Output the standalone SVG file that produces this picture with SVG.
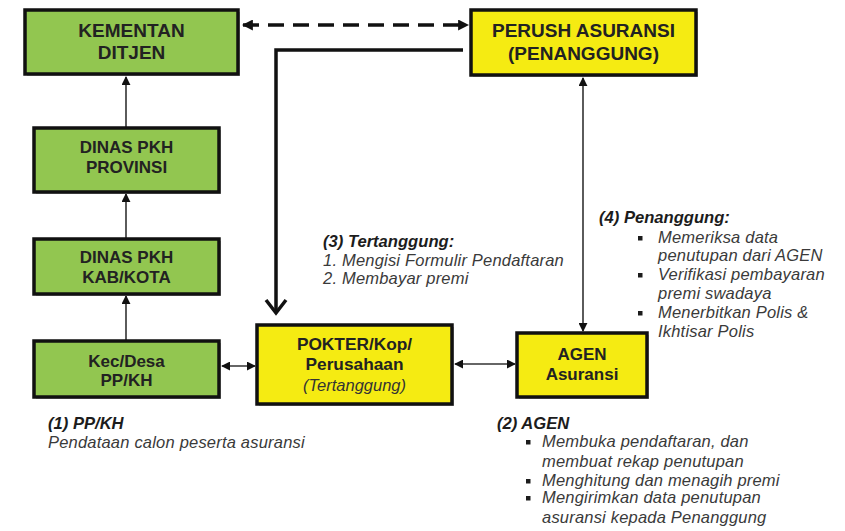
<svg xmlns="http://www.w3.org/2000/svg" width="845" height="531" viewBox="0 0 845 531">
<defs>
<style>
.box{stroke:#111;stroke-width:3.5}
.g{fill:#92c650}
.y{fill:#f5eb12}
.sh{fill:#bdbdbd}
.nt{font-family:"Liberation Sans",Arial,sans-serif;font-weight:bold;fill:#222;text-anchor:middle}
.ni{font-family:"Liberation Sans",Arial,sans-serif;font-style:italic;fill:#333;text-anchor:middle}
.hd{font-family:"Liberation Sans",Arial,sans-serif;font-weight:bold;font-style:italic;fill:#1c1c1c;font-size:16.6px}
.it{font-family:"Liberation Sans",Arial,sans-serif;font-style:italic;fill:#3a3a3a;font-size:16.5px;letter-spacing:0.2px}
.thin{stroke:#333;stroke-width:1.6;fill:none}
.bul{fill:#1c1c1c}
</style>
<marker id="ah" viewBox="0 0 10 10" refX="9" refY="5" markerWidth="9" markerHeight="9" markerUnits="userSpaceOnUse" orient="auto-start-reverse">
<path d="M0,0 L10,5 L0,10 z" fill="#111"/>
</marker>
<marker id="ahb" viewBox="0 0 10 10" refX="9" refY="5" markerWidth="11" markerHeight="11" markerUnits="userSpaceOnUse" orient="auto-start-reverse">
<path d="M0,0 L10,5 L0,10 z" fill="#111"/>
</marker>
</defs>
<rect width="845" height="531" fill="#fff"/>

<g id="connectors">
<line x1="243" y1="25" x2="468" y2="25" stroke="#111" stroke-width="3.5" stroke-dasharray="16,9" marker-start="url(#ahb)" marker-end="url(#ahb)"/>
<path d="M463,50 H276 V313" fill="none" stroke="#111" stroke-width="3.5"/>
<path d="M266,300 L276,313 L286,300" fill="none" stroke="#111" stroke-width="3.5" stroke-linejoin="miter"/>
<line class="thin" x1="126" y1="127" x2="126" y2="77" marker-end="url(#ah)"/>
<line class="thin" x1="126" y1="238" x2="126" y2="194" marker-end="url(#ah)"/>
<line class="thin" x1="126" y1="340" x2="126" y2="296" marker-end="url(#ah)"/>
<line class="thin" x1="222" y1="366" x2="255" y2="366" marker-start="url(#ah)" marker-end="url(#ah)"/>
<line class="thin" x1="455" y1="364" x2="515" y2="364" marker-start="url(#ah)" marker-end="url(#ah)"/>
<line class="thin" x1="583" y1="78" x2="583" y2="331" marker-start="url(#ah)" marker-end="url(#ah)"/>
</g>

<g id="kementan">
<rect class="sh" x="27" y="12" width="213" height="64"/>
<rect class="box g" x="25" y="10" width="213" height="64"/>
<text class="nt" x="131.5" y="37" font-size="19">KEMENTAN</text>
<text class="nt" x="131.5" y="59" font-size="19">DITJEN</text>
</g>

<g id="perush">
<rect class="sh" x="473" y="12" width="225" height="65"/>
<rect class="box y" x="471" y="10" width="225" height="65"/>
<text class="nt" x="583.5" y="37" font-size="19">PERUSH ASURANSI</text>
<text class="nt" x="583.5" y="60" font-size="19">(PENANGGUNG)</text>
</g>

<g id="dinas-prov">
<rect class="sh" x="36" y="130" width="185" height="64"/>
<rect class="box g" x="34" y="128" width="185" height="64"/>
<text class="nt" x="126.5" y="153" font-size="17">DINAS PKH</text>
<text class="nt" x="126.5" y="173" font-size="17">PROVINSI</text>
</g>

<g id="dinas-kab">
<rect class="sh" x="36" y="241" width="185" height="55"/>
<rect class="box g" x="34" y="239" width="185" height="55"/>
<text class="nt" x="126.5" y="263" font-size="17">DINAS PKH</text>
<text class="nt" x="126.5" y="283" font-size="17">KAB/KOTA</text>
</g>

<g id="kec-desa">
<rect class="sh" x="36" y="343" width="185" height="56"/>
<rect class="box g" x="34" y="341" width="185" height="56"/>
<text class="nt" x="126.5" y="367" font-size="17">Kec/Desa</text>
<text class="nt" x="126.5" y="386" font-size="17">PP/KH</text>
</g>

<g id="pokter">
<rect class="sh" x="259" y="327" width="195" height="79"/>
<rect class="box y" x="257" y="325" width="195" height="79"/>
<text class="nt" x="354.5" y="350" font-size="17.3">POKTER/Kop/</text>
<text class="nt" x="354.5" y="370" font-size="17.3">Perusahaan</text>
<text class="ni" x="354.5" y="391" font-size="16.5">(Tertanggung)</text>
</g>

<g id="agen">
<rect class="sh" x="519" y="335" width="130" height="64"/>
<rect class="box y" x="517" y="333" width="130" height="64"/>
<text class="nt" x="582" y="360" font-size="17">AGEN</text>
<text class="nt" x="582" y="380" font-size="17">Asuransi</text>
</g>

<g id="note-3">
<text class="hd" x="323" y="247">(3) Tertanggung:</text>
<text class="it" x="323" y="266">1. Mengisi Formulir Pendaftaran</text>
<text class="it" x="323" y="284">2. Membayar premi</text>
</g>

<g id="note-4">
<text class="hd" x="599" y="223">(4) Penanggung:</text>
<rect class="bul" x="638" y="236" width="4.5" height="4.5"/>
<text class="it" x="658" y="243">Memeriksa data</text>
<text class="it" x="658" y="261">penutupan dari AGEN</text>
<rect class="bul" x="638" y="273" width="4.5" height="4.5"/>
<text class="it" x="658" y="280">Verifikasi pembayaran</text>
<text class="it" x="658" y="299">premi swadaya</text>
<rect class="bul" x="638" y="311" width="4.5" height="4.5"/>
<text class="it" x="658" y="318">Menerbitkan Polis &amp;</text>
<text class="it" x="658" y="337">Ikhtisar Polis</text>
</g>

<g id="note-1">
<text class="hd" x="48" y="429">(1) PP/KH</text>
<text class="it" x="48" y="448">Pendataan calon peserta asuransi</text>
</g>

<g id="note-2">
<text class="hd" x="497" y="429">(2) AGEN</text>
<rect class="bul" x="526" y="440" width="4.5" height="4.5"/>
<text class="it" x="542" y="447">Membuka pendaftaran, dan</text>
<text class="it" x="542" y="467">membuat rekap penutupan</text>
<rect class="bul" x="526" y="479" width="4.5" height="4.5"/>
<text class="it" x="542" y="486">Menghitung dan menagih premi</text>
<rect class="bul" x="526" y="496" width="4.5" height="4.5"/>
<text class="it" x="542" y="503">Mengirimkan data penutupan</text>
<text class="it" x="542" y="523">asuransi kepada Penanggung</text>
</g>
</svg>
